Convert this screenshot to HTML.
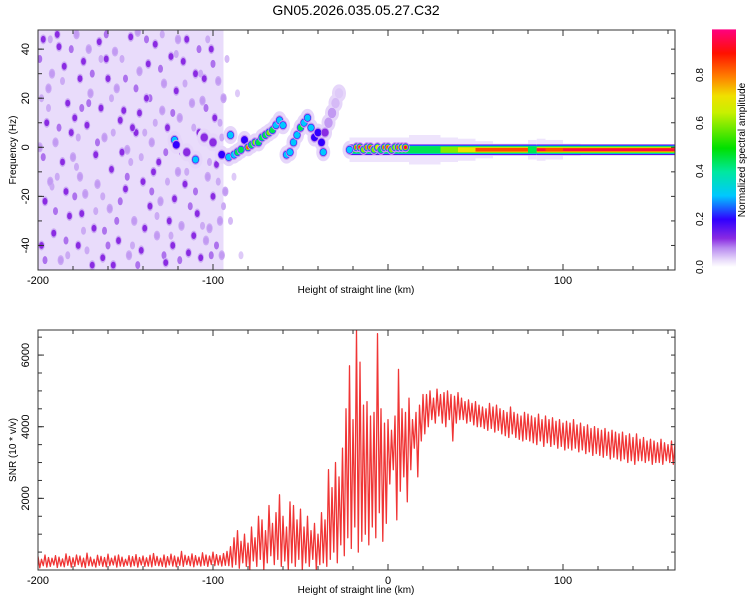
<!DOCTYPE html>
<html><head><meta charset="utf-8">
<style>
html,body{margin:0;padding:0;background:#fff;}
svg{display:block;font-family:"Liberation Sans",sans-serif;}
</style></head>
<body>
<svg id="fig" width="750" height="600" viewBox="0 0 750 600" xmlns="http://www.w3.org/2000/svg">
<defs>
<clipPath id="clipTop"><rect x="38" y="30" width="637" height="240"/></clipPath>
<clipPath id="clipBot"><rect x="38" y="330" width="637" height="240"/></clipPath>
<linearGradient id="cbGrad" x1="0" y1="1" x2="0" y2="0">
<stop offset="0" stop-color="#ffffff"/><stop offset="0.03" stop-color="#e8dafa"/><stop offset="0.08" stop-color="#b88af0"/>
<stop offset="0.12" stop-color="#8a2be2"/><stop offset="0.2" stop-color="#3000ff"/><stop offset="0.3" stop-color="#00c8ff"/>
<stop offset="0.4" stop-color="#00e8a0"/><stop offset="0.5" stop-color="#00e000"/><stop offset="0.65" stop-color="#c8f000"/>
<stop offset="0.72" stop-color="#f0e000"/><stop offset="0.8" stop-color="#ff8000"/><stop offset="0.9" stop-color="#ff1000"/>
<stop offset="1" stop-color="#ff0080"/>
</linearGradient>
</defs>
<text x="356" y="15" font-size="14" text-anchor="middle">GN05.2026.035.05.27.C32</text>
<g id="topPlot"></g>
<g id="botPlot"></g>
<g id="cbar"></g>
</svg>
<script>
// ---------- data ----------
const xTicksMajor = [-200, -100, 0, 100];
const xTickLabelsTop = ["-200", "-100", "", "100"];
const xTickLabelsBot = ["-200", "-100", "0", "100"];
const freqTicks = [-40, -20, 0, 20, 40];
const snrTicks = [2000, 4000, 6000];
const cbTicks = [0.0, 0.2, 0.4, 0.6, 0.8];
const cbTickLabels = ["0.0", "0.2", "0.4", "0.6", "0.8"];

// noise blobs [km, Hz, amplitude]
const noiseDots = [
[-197,44,0.12],[-192,30,0.07],[-188,41,0.12],[-183,18,0.12],[-178,46,0.07],[-174,35,0.12],[-170,22,0.07],[-165,43,0.12],[-160,28,0.12],[-156,39,0.07],
[-151,15,0.12],[-147,45,0.12],[-142,31,0.07],[-138,20,0.12],[-133,42,0.12],[-128,26,0.07],[-124,37,0.12],[-119,12,0.07],[-115,44,0.12],[-110,30,0.12],
[-106,19,0.07],[-101,40,0.12],[-97,27,0.07],[-195,10,0.12],[-190,2,0.07],[-186,-6,0.12],[-181,6,0.12],[-176,-12,0.07],[-172,9,0.12],[-167,-3,0.12],
[-162,4,0.07],[-158,-9,0.12],[-153,11,0.12],[-149,-1,0.07],[-144,6,0.12],[-140,-14,0.12],[-135,2,0.07],[-131,-6,0.12],[-126,8,0.12],[-120,-10,0.07],
[-113,-4,0.12],[-108,6,0.12],[-103,-12,0.07],[-98,-7,0.12],[-196,-22,0.12],[-191,-35,0.12],[-187,-46,0.07],[-182,-28,0.12],[-177,-40,0.12],[-173,-19,0.07],
[-168,-33,0.12],[-163,-45,0.12],[-159,-25,0.07],[-154,-38,0.12],[-150,-17,0.12],[-145,-30,0.07],[-141,-42,0.12],[-136,-24,0.12],[-132,-36,0.07],[-127,-47,0.12],
[-122,-21,0.12],[-118,-32,0.07],[-114,-43,0.12],[-109,-27,0.12],[-104,-38,0.07],[-100,-20,0.12],[-96,-30,0.07],[-194,24,0.07],[-185,33,0.12],[-179,12,0.12],
[-171,40,0.07],[-164,16,0.12],[-155,24,0.07],[-146,8,0.12],[-137,34,0.12],[-129,15,0.07],[-121,23,0.12],[-112,18,0.07],[-105,28,0.12],[-99,12,0.12],
[-193,-14,0.07],[-184,-18,0.12],[-175,-27,0.12],[-166,-15,0.07],[-157,-48,0.12],[-148,-44,0.07],[-139,-33,0.12],[-130,-22,0.07],[-123,-40,0.12],[-116,-15,0.12],
[-107,-45,0.12],[-102,-33,0.07],[-95,-44,0.07],[-189,46,0.12],[-161,36,0.12],[-143,47,0.07],[-117,35,0.12],[-134,-10,0.12],[-152,-2,0.12],[-180,-4,0.07],
[-198,-40,0.12],[-199,0,0.07],[-94,20,0.07],[-93,-18,0.07],[-111,-36,0.12],[-125,-30,0.12],[-169,-48,0.12],[-176,28,0.12],[-142,14,0.12],[-120,44,0.07]
];
// secondary medium/pale blobs [km, Hz, amplitude]
const paleDots = [
[-199,36,0.09],[-194,16,0.06],[-190,-26,0.09],[-186,27,0.06],[-184,-38,0.09],[-181,40,0.09],[-178,-8,0.06],[-175,16,0.09],[-172,-42,0.06],[-169,30,0.09],
[-166,2,0.09],[-163,-20,0.06],[-161,46,0.09],[-158,20,0.06],[-155,-30,0.09],[-152,36,0.06],[-149,-12,0.09],[-146,-40,0.06],[-144,24,0.09],[-141,-4,0.06],
[-138,44,0.09],[-135,-18,0.09],[-133,10,0.06],[-130,32,0.09],[-128,-44,0.09],[-126,-14,0.06],[-123,14,0.09],[-121,38,0.06],[-118,-2,0.09],[-116,26,0.06],
[-113,-24,0.09],[-111,8,0.06],[-108,40,0.09],[-106,-32,0.06],[-104,16,0.09],[-102,-6,0.06],[-100,34,0.09],[-98,-40,0.09],[-96,10,0.06],[-94,-24,0.06],
[-92,36,0.05],[-90,-30,0.05],[-88,-12,0.04],[-86,22,0.04],[-84,-44,0.04],[-197,-4,0.09],[-192,-16,0.06],[-188,8,0.09],[-183,-44,0.06],[-179,-20,0.09],
[-174,-34,0.06],[-171,18,0.09],[-167,-26,0.06],[-164,36,0.06],[-160,-40,0.09],[-157,6,0.06],[-153,-22,0.09],[-150,28,0.09],[-147,-6,0.06],[-143,-48,0.09],
[-139,6,0.06],[-136,20,0.09],[-132,-28,0.06],[-129,46,0.06],[-127,-2,0.09],[-124,-36,0.06],[-119,-46,0.09],[-115,-10,0.06],[-110,-18,0.09],[-107,30,0.06],
[-103,44,0.06],[-101,-44,0.09],[-97,-14,0.06],[-95,4,0.06],[-198,20,0.06],[-196,-46,0.09],[-193,44,0.06],[-189,-12,0.06],[-177,4,0.06],[-162,-34,0.09]
];

// signal blobs [km, Hz, amplitude]
const sigDots = [
[-122,3,0.3],[-121,1,0.25],[-115,-2,0.15],[-110,-5,0.3],[-105,4,0.15],[-100,2,0.15],[-95,-3,0.2],
[-91,-4,0.35],[-90,5,0.3],[-88,-3,0.4],[-86,-2,0.45],[-84,-1,0.5],[-82,3,0.2],[-80,0,0.9],[-78,1,0.5],[-76,2,0.6],
[-74,2,0.55],[-72,4,0.5],[-70,5,0.5],[-68,6,0.7],[-66,7,0.45],[-64,9,0.3],[-62,11,0.35],[-60,9,0.3],
[-58,-3,0.3],[-56,-2,0.4],[-54,2,0.3],[-52,5,0.35],[-50,8,0.5],[-48,10,0.4],[-46,12,0.4],[-44,8,0.3],[-42,4,0.25],[-40,6,0.2],
[-38,2,0.2],[-36,6,0.12],[-34,10,0.1],[-32,14,0.07],[-30,18,0.05],[-28,22,0.04],[-37,-2,0.3],
[-22,-1,0.4],[-18,0,0.9],[-16,0,1.0],[-14,-1,0.7],[-12,0,0.85],[-10,0,0.9],[-8,-1,0.6],[-6,0,0.8],[-4,-1,0.5],
[-2,0,0.9],[0,0,0.85],[2,-1,0.6],[4,0,0.7],[6,0,0.9],[8,0,0.8],[10,0,0.95]
];

// continuous band segments
const bandKm   = [-22,12,20,30,40,50,60,70,80,85,90,100,110,120,140,164];
const bandAmp  = [0.55,0.5,0.55,0.65,0.75,0.85,0.9,0.9,0.5,0.95,0.85,0.95,1,1,1,1];
const bandHalo = [5,6,6,5,4.5,3.5,2.5,2.5,4,4.5,4,2.5,2,2,2,2];
const bandHz = -1;

// SNR envelope, 2 km steps from -200
const snrStartKm = -200;
const snrStepKm = 2;
const snrHigh = [
380,300,420,350,330,400,360,310,450,380,340,420,390,330,470,360,300,410,380,350,440,330,390,420,360,300,400,370,430,350,390,340,410,460,380,330,420,370,440,390,360,520,410,380,450,400,360,480,420,390,500,430,400,460,520,
650,900,1100,800,1000,750,
1200,900,1500,1400,1100,1800,1300,1600,2100,1500,1200,1900,
1800,1400,1700,1200,1500,1100,1300,1000,1600,1400,
2800,2300,3000,2600,3400,
4500,5700,4200,6700,5800,4600,
4700,4300,4400,6600,4500,4100,
4200,3900,4300,5600,4500,4400,
4800,4200,4400,4600,4900,
4900,5000,4800,5050,4900,4950,5000,4900,4850,4950,
4800,4700,4750,4650,4700,4600,4550,4500,4650,4550,4600,4500,4450,4400,4550,4400,4350,4300,4400,4350,4300,4250,4350,4200,4300,4200,4250,4150,4200,4100,4150,4100,4200,4050,4100,4000,4050,3950,4000,3950,3900,3950,3850,3900,3850,3800,3850,3750,3800,3700,3800,3650,3700,3600,3650,3600,3550,3650,3550,3500,3600,3550
];
const snrLow = [
60,120,80,100,140,70,110,90,130,80,100,150,90,70,120,110,80,130,100,90,120,140,80,110,100,130,90,120,80,140,100,110,90,130,120,100,80,140,110,90,130,100,150,120,90,140,110,130,100,150,120,140,110,130,120,
80,150,50,200,100,0,
250,100,300,0,200,400,150,300,100,250,0,200,
100,300,0,200,100,300,0,150,200,100,
300,500,200,700,400,
900,600,1200,500,800,1000,
700,1200,900,1600,800,1300,
2400,2800,1400,2200,2600,1900,
2800,3400,2600,3600,3800,
4000,4200,4100,4300,4100,4000,4200,3600,4100,4200,
4200,4100,4150,4050,4000,4000,3950,3900,3950,3850,3900,3800,3750,3700,3800,3700,3650,3600,3650,3600,3550,3500,3600,3450,3550,3450,3500,3400,3450,3350,3400,3350,3400,3300,3350,3250,3300,3200,3250,3200,3150,3200,3100,3150,3100,3050,3100,3000,3050,2950,3050,3050,3000,3050,2950,3000,3000,2950,3050,3000,2950,3000
];

// ---------- scales ----------
const X0 = 38, X1 = 675;
const kmMin = -200, kmMax = 164;
const xS = km => X0 + (km - kmMin) * (X1 - X0) / (kmMax - kmMin);
const hzMin = -50, hzMax = 47.8, TY0 = 30, TY1 = 270;
const yF = hz => TY1 - (hz - hzMin) * (TY1 - TY0) / (hzMax - hzMin);
const snrMax = 6700, BY0 = 330, BY1 = 570;
const yS = v => BY1 - v * (BY1 - BY0) / snrMax;
const CB0 = 267, CBH = 240;
const yC = v => CB0 - v * CBH;

const NS = "http://www.w3.org/2000/svg";
function mk(tag, attrs, parent) {
  const e = document.createElementNS(NS, tag);
  for (const k in attrs) e.setAttribute(k, attrs[k]);
  parent.appendChild(e);
  return e;
}
const cStops = [[0,[255,255,255]],[0.03,[232,218,250]],[0.08,[184,138,240]],[0.12,[138,43,226]],[0.2,[48,0,255]],[0.3,[0,200,255]],[0.4,[0,232,160]],[0.5,[0,224,0]],[0.65,[200,240,0]],[0.72,[240,224,0]],[0.8,[255,128,0]],[0.9,[255,16,0]],[1,[255,0,128]]];
function cmap(v) {
  v = Math.max(0, Math.min(1, v));
  for (let i = 1; i < cStops.length; i++) {
    if (v <= cStops[i][0]) {
      const a = cStops[i-1], b = cStops[i], t = (v - a[0]) / (b[0] - a[0]);
      const c = a[1].map((x, j) => Math.round(x + (b[1][j] - x) * t));
      return `rgb(${c[0]},${c[1]},${c[2]})`;
    }
  }
  return "rgb(255,0,128)";
}
const ampLevels = [0.03, 0.07, 0.12, 0.2, 0.3, 0.45, 0.6, 0.72, 0.85, 0.95];

// ---------- top panel ----------
const topG = document.getElementById("topPlot");
const tclip = mk("g", {"clip-path": "url(#clipTop)"}, topG);
const bg = mk("rect", {x: xS(-200), y: TY0, width: xS(-94) - xS(-200), height: TY1 - TY0, fill: "#e9dcfb"}, tclip);


paleDots.forEach(d => {
  const e = mk("ellipse", {cx: xS(d[0]), cy: yF(d[1]), rx: 2.5, ry: 4, fill: cmap(d[2])}, tclip);
  
  
});
noiseDots.forEach(d => {
  const cx = xS(d[0]), cy = yF(d[1]);
  mk("ellipse", {cx: cx, cy: cy, rx: 3.2, ry: 5, fill: cmap(0.06)}, tclip);
  const e = mk("ellipse", {cx: cx, cy: cy, rx: 2.4, ry: 3.4, fill: cmap(d[2])}, tclip);
  
  
});
// signal halos first
sigDots.forEach(d => {
  const h = mk("ellipse", {cx: xS(d[0]), cy: yF(d[1]), rx: 7, ry: 9, fill: "#e6d6fa"}, tclip);
  
  
});
for (let i = 0; i < bandKm.length - 1; i++) {
  const xa = xS(bandKm[i]), xb = xS(bandKm[i+1]);
  const a = bandAmp[i];
  const halo = bandHalo[i];
  const seg = mk("g", {}, tclip);
  
  
  mk("rect", {x: xa, y: yF(bandHz + halo), width: xb - xa, height: yF(bandHz - halo) - yF(bandHz + halo), fill: "#eee4fc"}, seg);
  ampLevels.forEach((lv, k) => {
    if (lv > a || lv < 0.1) return;
    const hw = 2.2 * (1 - (k - 2) / 9);
    mk("rect", {x: xa, y: yF(bandHz + hw), width: xb - xa, height: yF(bandHz - hw) - yF(bandHz + hw), fill: cmap(lv)}, seg);
  });
}
sigDots.forEach(d => {
  const g = mk("g", {}, tclip);
  
  
  const cx = xS(d[0]), cy = yF(d[1]);
  mk("ellipse", {cx: cx, cy: cy, rx: 4.2, ry: 5.2, fill: cmap(Math.min(0.07, d[2]))}, g);
  ampLevels.forEach((lv, k) => {
    if (lv > d[2] || lv < 0.1) return;
    const r = 3.6 * (1 - (k - 2) / 12);
    mk("ellipse", {cx: cx, cy: cy, rx: r, ry: r * 1.1, fill: cmap(lv)}, g);
  });
});

function axes(parent, y0, y1, yTicks, yFn, yLabels, minorY, xLabels, ytitle, namePrefix) {
  const fr = mk("rect", {x: X0, y: y0, width: X1 - X0, height: y1 - y0, fill: "none", stroke: "#333", "stroke-width": 1}, parent);
  
  
  for (let km = -200; km <= 160; km += 20) {
    const x = xS(km), L = (km % 100 === 0) ? 6 : 4;
    mk("line", {x1: x, x2: x, y1: y1, y2: y1 - L, stroke: "#333"}, parent);
    mk("line", {x1: x, x2: x, y1: y0, y2: y0 + L, stroke: "#333"}, parent);
  }
  xTicksMajor.forEach((km, i) => {
    const t = mk("text", {x: xS(km), y: y1 + 14, "font-size": 11, "text-anchor": "middle"}, parent);
    t.textContent = xLabels[i];
    
    
  });
  minorY.forEach(v => {
    const y = yFn(v);
    mk("line", {x1: X0, x2: X0 + 4, y1: y, y2: y, stroke: "#333"}, parent);
    mk("line", {x1: X1, x2: X1 - 4, y1: y, y2: y, stroke: "#333"}, parent);
  });
  yTicks.forEach((v, i) => {
    const y = yFn(v);
    mk("line", {x1: X0, x2: X0 + 6, y1: y, y2: y, stroke: "#333"}, parent);
    const t = mk("text", {x: 29, y: y, "font-size": 11, "text-anchor": "middle", transform: `rotate(-90 29 ${y})`}, parent);
    t.textContent = yLabels[i];
    
    
  });
  const xt = mk("text", {x: 356, y: y1 + 23, "font-size": 10, "text-anchor": "middle"}, parent);
  xt.textContent = "Height of straight line (km)";
  
  
  const yc = (y0 + y1) / 2;
  const yt = mk("text", {x: 16, y: yc, "font-size": 10, "text-anchor": "middle", transform: `rotate(-90 16 ${yc})`}, parent);
  yt.textContent = ytitle;
  
  
}
const minorF = [];
for (let v = -50; v <= 45; v += 10) minorF.push(v);
axes(topG, TY0, TY1, freqTicks, yF, freqTicks.map(String), minorF, xTickLabelsTop, "Frequency (Hz)", "spectrogram");

// ---------- bottom panel ----------
const botG = document.getElementById("botPlot");
const bclip = mk("g", {"clip-path": "url(#clipBot)"}, botG);
const pts = [];
const nPts = Math.min(snrHigh.length, snrLow.length);
for (let i = 0; i < nPts; i++) {
  const km = snrStartKm + i * snrStepKm;
  pts.push(xS(km).toFixed(1) + "," + yS(snrHigh[i]).toFixed(1));
  pts.push(xS(km + snrStepKm / 2).toFixed(1) + "," + yS(snrLow[i]).toFixed(1));
}
const snrLine = mk("polyline", {points: pts.join(" "), fill: "none", stroke: "#f03535", "stroke-width": 1.3, "stroke-linejoin": "round"}, bclip);


const minorS = [];
for (let v = 500; v <= 6500; v += 500) minorS.push(v);
axes(botG, BY0, BY1, snrTicks, yS, snrTicks.map(String), minorS, xTickLabelsBot, "SNR (10 * v/v)", "snr");

// ---------- colorbar ----------
const cbG = document.getElementById("cbar");
const cbr = mk("rect", {x: 712, y: yC(0.99), width: 24, height: yC(0) - yC(0.99), fill: "url(#cbGrad)"}, cbG);


cbTicks.forEach((v, i) => {
  const y = yC(v);
  const t = mk("text", {x: 703, y: y, "font-size": 10, "text-anchor": "middle", transform: `rotate(-90 703 ${y})`}, cbG);
  t.textContent = cbTickLabels[i];
  
  
});
const cbt = mk("text", {x: 745, y: 150, "font-size": 10, "text-anchor": "middle", transform: "rotate(-90 745 150)"}, cbG);
cbt.textContent = "Normalized spectral amplitude";


</script>
</body></html>
